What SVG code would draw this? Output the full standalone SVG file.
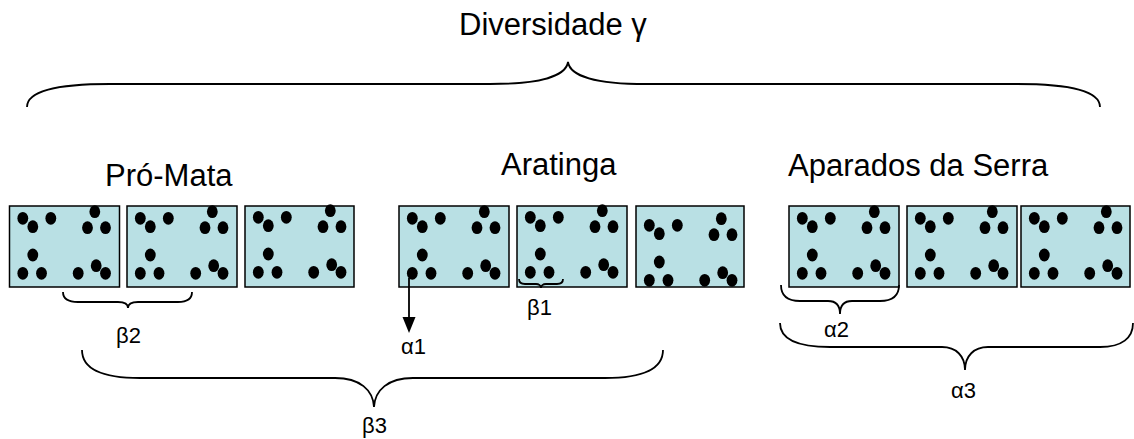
<svg xmlns="http://www.w3.org/2000/svg" xmlns:xlink="http://www.w3.org/1999/xlink" width="1134" height="439" viewBox="0 0 1134 439">
<style>
.box{fill:#b9e0e4;stroke:#000;stroke-width:1.5}
.dot{fill:#000}
.big{font-family:"Liberation Sans",Arial,sans-serif;font-size:31px;fill:#000}
.lbl{font-family:"Liberation Sans",Arial,sans-serif;font-size:22px;fill:#000}
.brace{fill:none;stroke:#000;stroke-width:1.8}
</style>
<defs>
<g id="dots">
<ellipse class="dot" cx="13.3" cy="12.3" rx="5.4" ry="6.4"/>
<ellipse class="dot" cx="23.3" cy="20.7" rx="5.4" ry="6.4"/>
<ellipse class="dot" cx="41.3" cy="12.3" rx="5.4" ry="6.4"/>
<ellipse class="dot" cx="85.3" cy="5.7" rx="5.4" ry="6.4"/>
<ellipse class="dot" cx="78" cy="21.7" rx="5.4" ry="6.4"/>
<ellipse class="dot" cx="96" cy="21.7" rx="5.4" ry="6.4"/>
<ellipse class="dot" cx="23.3" cy="49" rx="5.4" ry="6.4"/>
<ellipse class="dot" cx="13.3" cy="67.3" rx="5.4" ry="6.4"/>
<ellipse class="dot" cx="32" cy="67.3" rx="5.4" ry="6.4"/>
<ellipse class="dot" cx="68.7" cy="67.3" rx="5.4" ry="6.4"/>
<ellipse class="dot" cx="86.7" cy="59.7" rx="5.4" ry="6.4"/>
<ellipse class="dot" cx="96" cy="67.3" rx="5.4" ry="6.4"/>
</g>
</defs>
<g id="title"><text class="big" x="459" y="35">Diversidade γ</text></g>
<g id="label-pro-mata"><text class="big" x="105" y="186">Pró-Mata</text></g>
<g id="label-aratinga"><text class="big" x="501" y="175">Aratinga</text></g>
<g id="label-aparados"><text class="big" x="788" y="176">Aparados da Serra</text></g>
<g id="pm1"><rect class="box" x="9.5" y="206" width="110" height="81"/><use xlink:href="#dots" transform="translate(9.5,206)"/></g>
<g id="pm2"><rect class="box" x="127" y="206" width="110" height="81"/><use xlink:href="#dots" transform="translate(127,206)"/></g>
<g id="pm3"><rect class="box" x="245" y="206" width="109" height="81"/><use xlink:href="#dots" transform="translate(245,205)"/></g>
<g id="ar1"><rect class="box" x="399" y="206" width="110" height="81"/><use xlink:href="#dots" transform="translate(399,206)"/></g>
<g id="ar2"><rect class="box" x="517" y="206" width="110" height="81"/><use xlink:href="#dots" transform="translate(517,205)"/></g>
<g id="ar3"><rect class="box" x="636" y="206" width="108" height="81"/><use xlink:href="#dots" transform="translate(636,213)"/></g>
<g id="as1"><rect class="box" x="789" y="206" width="110" height="81"/><use xlink:href="#dots" transform="translate(789,206)"/></g>
<g id="as2"><rect class="box" x="907" y="206" width="110" height="81"/><use xlink:href="#dots" transform="translate(907,206)"/></g>
<g id="as3"><rect class="box" x="1021" y="206" width="109" height="81"/><use xlink:href="#dots" transform="translate(1021,206)"/></g>
<g id="connectors">
<path class="brace" d="M27,107 C27,92 55,84 110,84 L490,84 C540,84 566,76 568,62 C570,76 596,84 646,84 L1017,84 C1072,84 1100,92 1100,107"/>
<path class="brace" d="M82,350 C82,368 100,378 140,378 L335,378 C360,378 373,390 374,407 C375,390 388,378 413,378 L605,378 C645,378 663,368 663,350"/>
<path class="brace" d="M63,292 C63,298 68,302 78,302 L118,302 C124,302 128,304 128,308 C128,304 132,302 138,302 L178,302 C188,302 192,298 192,292"/>
<path class="brace" d="M519,279 C519,282 521,284 525,284 L536,284 C539,284 541,286 541,288 C541,286 543,284 546,284 L557,284 C561,284 563,282 563,279"/>
<path class="brace" d="M781,285 C781,296 787,301 800,301 L828,301 C836,301 840,306 840,314 C840,306 844,301 852,301 L880,301 C893,301 899,296 899,285"/>
<path class="brace" d="M780,323 C780,338 795,347 830,347 L942,347 C956,347 965,356 965,370 C965,356 974,347 988,347 L1100,347 C1122,347 1133,338 1133,323"/>
<line x1="409" y1="278" x2="409" y2="320" stroke="#000" stroke-width="1.8"/>
<polygon points="402.5,317 415.5,317 409,333" fill="#000"/>
</g>
<g id="greek-labels">
<text class="lbl" x="116" y="343">β2</text>
<text class="lbl" x="401" y="354">α1</text>
<text class="lbl" x="527" y="315">β1</text>
<text class="lbl" x="824" y="337">α2</text>
<text class="lbl" x="951" y="398">α3</text>
<text class="lbl" x="362" y="433">β3</text>
</g>
</svg>
